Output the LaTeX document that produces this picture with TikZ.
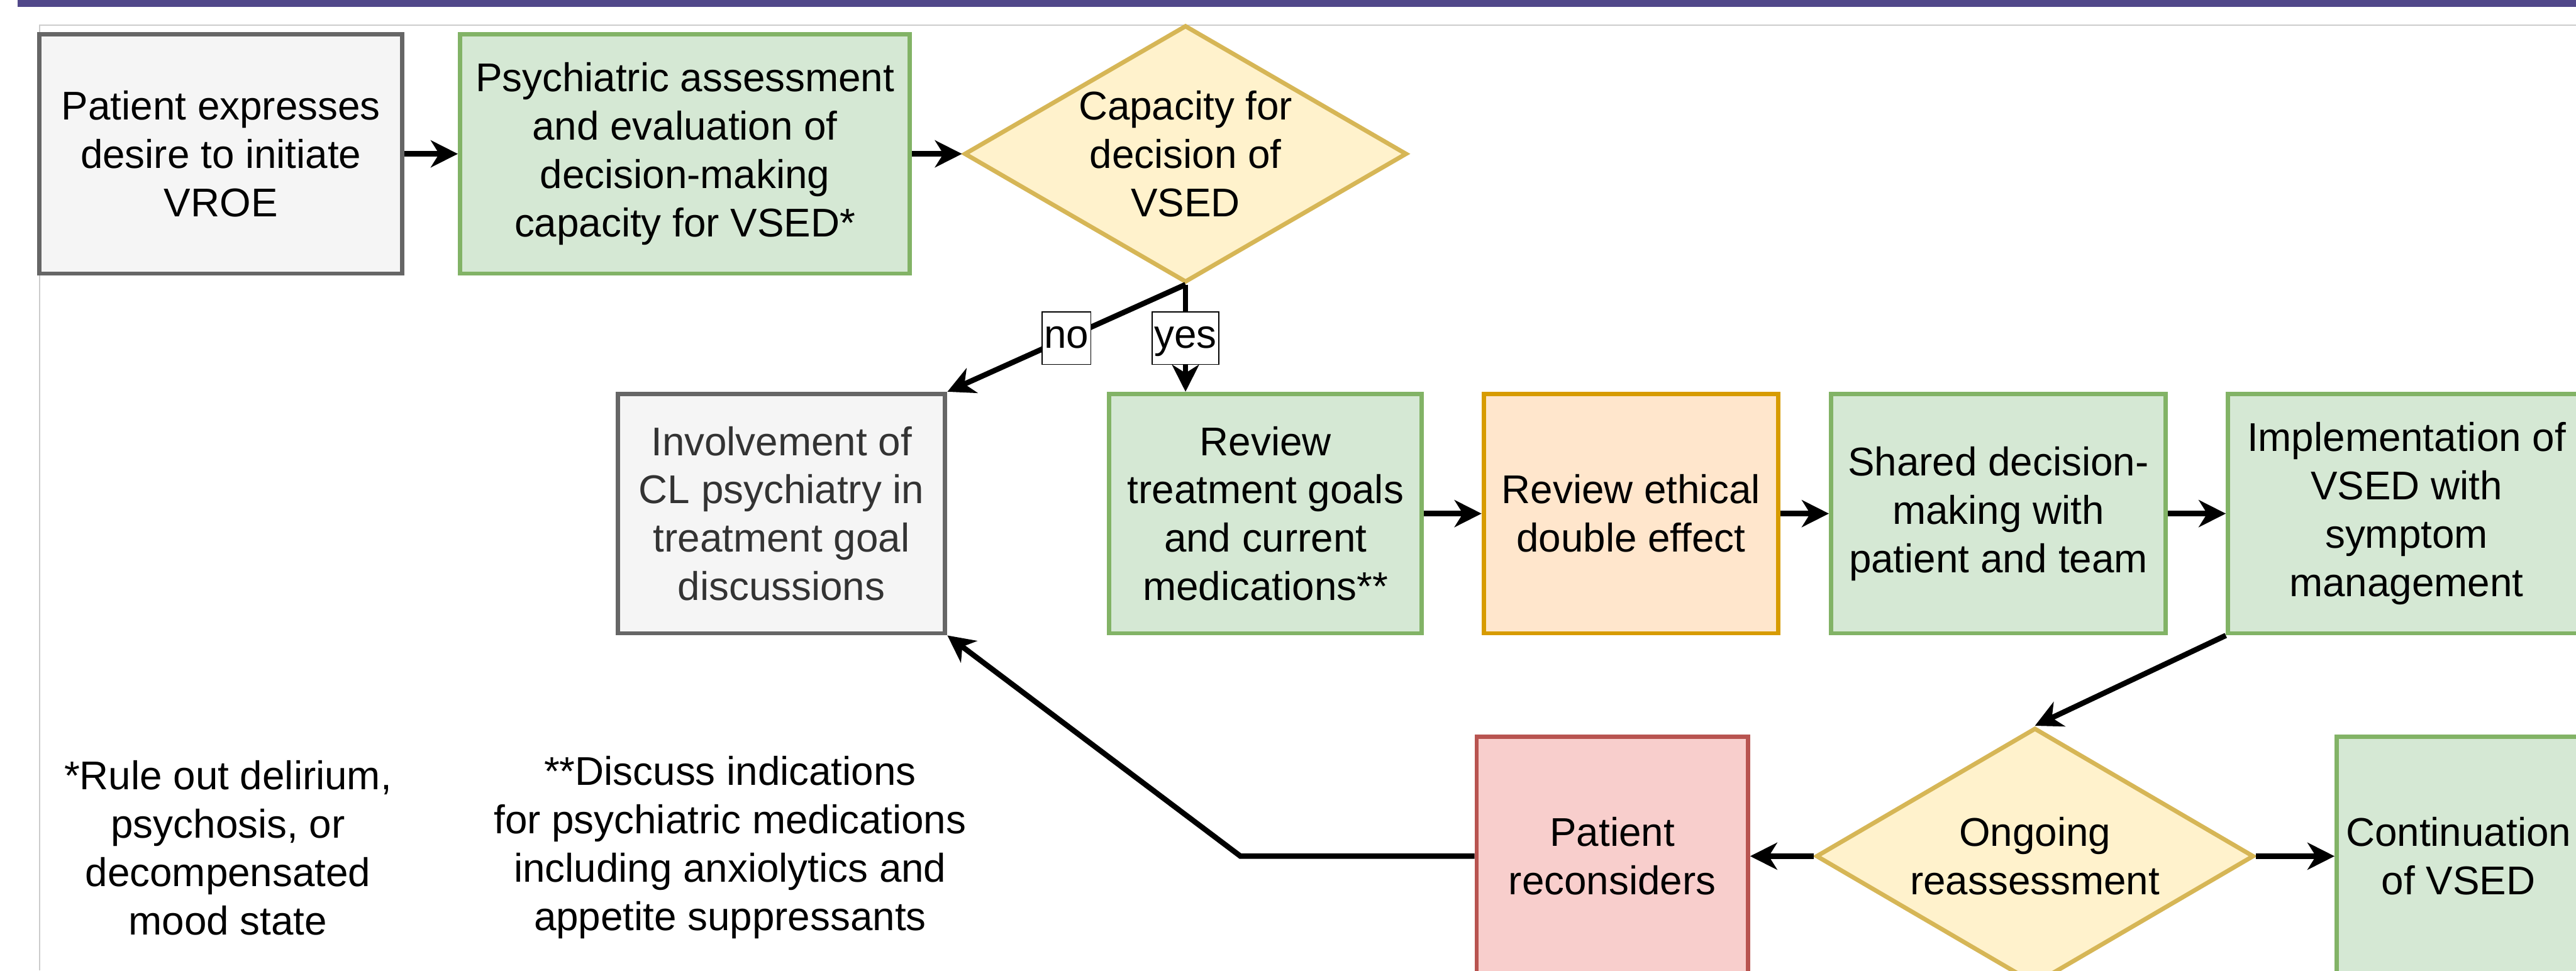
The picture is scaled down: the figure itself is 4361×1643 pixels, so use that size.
\documentclass[tikz,border=0pt]{standalone}
\usepackage{fontspec}
\setmainfont{Liberation Sans}
\usetikzlibrary{shapes.geometric,arrows.meta}
\definecolor{purplebar}{RGB}{81,72,138}
\definecolor{grayfill}{HTML}{F5F5F5}
\definecolor{graystroke}{HTML}{666666}
\definecolor{greenfill}{HTML}{D5E8D4}
\definecolor{greenstroke}{HTML}{82B366}
\definecolor{yellowfill}{HTML}{FFF2CC}
\definecolor{yellowstroke}{HTML}{D6B656}
\definecolor{orangefill}{HTML}{FFE6CC}
\definecolor{orangestroke}{HTML}{D79B00}
\definecolor{redfill}{HTML}{F8CECC}
\definecolor{redstroke}{HTML}{B85450}
\definecolor{framegray}{HTML}{CCCCCC}
\definecolor{darktext}{HTML}{333333}
\begin{document}
\begin{tikzpicture}[x=0.01cm,y=-0.01cm,
  every node/.style={font=\fontsize{19.3pt}{23.3pt}\selectfont, align=center, inner sep=0pt},
  box/.style={rectangle, line width=2.1pt, minimum height=4.05cm},
  graybox/.style={box, fill=grayfill, draw=graystroke},
  greenbox/.style={box, fill=greenfill, draw=greenstroke},
  orangebox/.style={box, fill=orangefill, draw=orangestroke},
  redbox/.style={box, fill=redfill, draw=redstroke},
  decision/.style={diamond, fill=yellowfill, draw=yellowstroke, line width=2.1pt},
  conn/.style={line width=2.6pt, -{Stealth[length=13pt,width=13pt,inset=4pt]}},
  lbl/.style={fill=white, draw=black, line width=0.6pt, inner sep=1pt}]

\useasboundingbox (0,0) rectangle (4361,1643);
\clip (0,0) rectangle (4361,1643);

% header bar and frame
\fill[purplebar] (30,0) rectangle (4361,12);
\draw[framegray, line width=0.6pt] (67,1643) -- (67,43) -- (4361,43);

% first row
\node[graybox, minimum width=6.14cm] (n1) at (374,260.5)
  {Patient expresses\\desire to initiate\\VROE};
\node[greenbox, minimum width=7.61cm] (n2) at (1159.5,260.5)
  {Psychiatric assessment\\and evaluation of\\decision-making\\capacity for VSED*};
\node[decision, minimum width=7.49cm, minimum height=4.35cm] (d1) at (2007,260.5) {};
\node (d1t) at (d1.center) {Capacity for\\decision of\\VSED};

% second row
\node[graybox, minimum width=5.54cm, text=darktext] (inv) at (1323,869.5)
  {Involvement of\\CL psychiatry in\\treatment goal\\discussions};
\node[greenbox, minimum width=5.29cm] (rtg) at (2142.5,869.5)
  {Review\\treatment goals\\and current\\medications**};
\node[orangebox, minimum width=4.98cm] (rde) at (2761,869.5)
  {Review ethical\\double effect};
\node[greenbox, minimum width=5.66cm] (sdm) at (3383,869.5)
  {Shared decision-\\making with\\patient and team};
\node[greenbox, minimum width=6.04cm] (impl) at (4074,869.5)
  {Implementation of\\VSED with\\symptom\\management};

% third row
\node[redbox, minimum width=4.59cm] (pr) at (2729.5,1449.5)
  {Patient\\reconsiders};
\node[decision, minimum width=7.41cm, minimum height=4.34cm] (ong) at (3445,1449.5) {};
\node (ongt) at (ong.center) {Ongoing\\reassessment};
\node[greenbox, minimum width=4.12cm] (cont) at (4162,1449.5)
  {Continuation\\of VSED};

% footnotes
\node (fn1) at (386,1435)
  {*Rule out delirium,\\psychosis, or\\decompensated\\mood state};
\node (fn2) at (1236,1435)
  {**Discuss indications\\for psychiatric medications\\including anxiolytics and\\appetite suppressants};

% connectors
\draw[conn] (n1.east) -- (n2.west);
\draw[conn] (n2.east) -- (d1.west);
\draw[conn] (d1.south) -- node[lbl]{\strut no} (inv.north east);
\draw[conn] (d1.south) -- node[lbl]{\strut yes} (d1.south |- rtg.north);
\draw[conn] (rtg.east) -- (rde.west);
\draw[conn] (rde.east) -- (sdm.west);
\draw[conn] (sdm.east) -- (impl.west);
\draw[conn] (impl.south west) -- (ong.north);
\draw[conn] (ong.west) -- (pr.east);
\draw[conn] (ong.east) -- (cont.west);
\coordinate (bend) at (2100,1449.5);
\draw[conn] (pr.west) -- (bend) -- (inv.south east);
\end{tikzpicture}
\end{document}
